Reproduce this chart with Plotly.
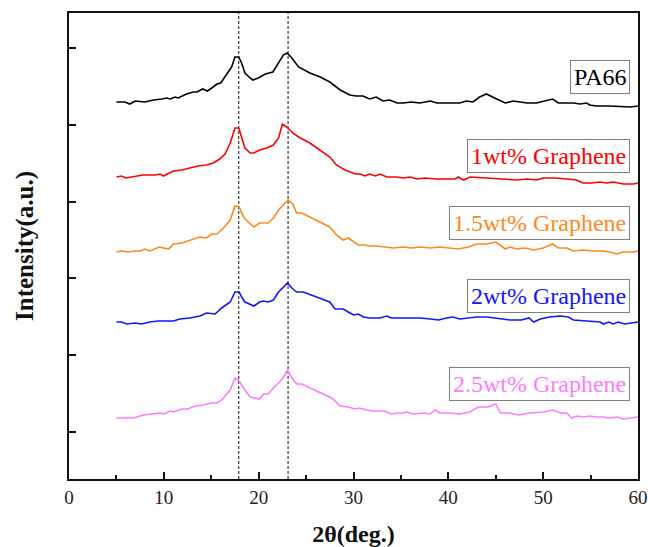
import plotly.graph_objects as go

# XRD patterns: (2θ in degrees, intensity in a.u., stacked with offsets)
pa66 = [(5.0, 377), (5.9, 377), (6.4, 375), (7.0, 378), (8.0, 377), (8.9, 379), (9.8, 380), (10.3, 381),
        (10.65, 380), (11.2, 382), (11.5, 381), (12.4, 385), (13.1, 387), (13.5, 387), (14.1, 390), (14.6, 388),
        (15.05, 391), (15.6, 395), (16.0, 396), (16.6, 404), (17.15, 412), (17.5, 422), (17.9, 422), (18.2, 416),
        (18.55, 406), (19.1, 401), (19.4, 399), (19.95, 401), (20.7, 405), (21.5, 407), (22.1, 416), (22.6, 424),
        (23.0, 426), (23.5, 421), (24.2, 412), (25.4, 406), (26.5, 402), (27.5, 397), (28.6, 389), (29.6, 384),
        (30.3, 383), (31.0, 383), (31.7, 380), (32.4, 382), (33.1, 378), (33.8, 379), (34.6, 376), (35.25, 376),
        (36.1, 377), (37.0, 376), (38.1, 378), (38.8, 376), (40.2, 376), (41.2, 376), (41.9, 378), (42.6, 377),
        (43.3, 382), (44.0, 385), (45.1, 380), (46.0, 376), (46.85, 378), (48.3, 376), (49.3, 376), (50.2, 378),
        (51.0, 380), (51.6, 376), (52.5, 376), (53.2, 376), (53.9, 375), (54.6, 376), (54.9, 374), (55.6, 373),
        (57.0, 373), (58.45, 372), (59.2, 372), (60.0, 373)]

g1 = [(5.0, 302), (5.55, 303), (6.0, 301), (6.8, 302), (7.8, 304), (9.1, 304), (9.6, 305), (9.95, 303),
      (11.0, 308), (11.9, 309), (12.9, 311), (13.6, 313), (14.5, 314), (15.2, 316), (15.9, 320), (16.45, 325),
      (17.0, 336), (17.5, 351), (17.9, 351), (18.2, 342), (18.55, 331), (19.1, 326), (19.5, 326), (20.1, 329),
      (20.85, 331), (21.55, 334), (22.1, 341), (22.5, 355), (22.95, 352), (23.6, 346), (24.2, 342), (25.4, 336),
      (26.5, 329), (27.5, 322), (28.2, 314), (29.1, 309), (30.2, 305), (30.7, 305), (31.2, 303), (31.7, 305),
      (32.3, 303), (32.8, 305), (33.5, 302), (34.6, 302), (35.25, 301), (36.0, 302), (36.7, 300), (37.5, 301),
      (38.8, 300), (40.2, 300), (40.7, 300), (41.05, 302), (41.6, 299), (42.3, 302), (44.05, 301), (45.8, 300),
      (47.2, 299), (48.3, 300), (49.3, 299), (50.0, 301), (51.25, 301), (52.5, 300), (53.5, 299), (54.2, 296),
      (55.1, 296), (56.0, 297), (56.7, 296), (57.4, 297), (58.45, 295), (59.5, 295), (60.0, 296)]

g15 = [(5.0, 227), (5.55, 228), (6.25, 227), (6.95, 228), (7.5, 228), (8.0, 230), (8.55, 228), (9.5, 232),
       (10.5, 230), (11.0, 235), (11.9, 236), (12.75, 239), (13.8, 242), (14.5, 241), (15.05, 245), (15.6, 245),
       (16.3, 251), (17.0, 259), (17.5, 273), (17.95, 272), (18.2, 266), (18.55, 260), (19.5, 252), (20.1, 256),
       (21.0, 256), (21.55, 261), (22.1, 269), (22.6, 274), (23.1, 279), (23.6, 275), (24.0, 266), (24.55, 266),
       (25.4, 262), (26.5, 257), (27.5, 252), (28.2, 244), (28.9, 239), (29.45, 241), (30.5, 234), (31.2, 234),
       (31.7, 233), (32.45, 233), (33.15, 232), (34.2, 231), (35.25, 232), (36.1, 231), (37.0, 232), (38.1, 231),
       (39.1, 232), (40.2, 231), (41.05, 230), (42.1, 232), (43.0, 235), (44.05, 235), (45.0, 237), (45.45, 234),
       (46.0, 230), (46.5, 232), (47.2, 230), (48.1, 231), (49.0, 229), (50.0, 231), (51.0, 235), (51.6, 231),
       (52.5, 231), (53.2, 228), (54.2, 229), (55.3, 228), (56.3, 228), (57.05, 227), (57.75, 225), (58.45, 227),
       (59.5, 227), (60.0, 228)]

g2 = [(5.0, 157), (5.55, 157), (6.1, 155), (6.95, 156), (7.65, 155), (8.55, 157), (9.4, 158), (10.65, 158),
      (11.0, 158), (11.7, 160), (12.75, 161), (13.8, 163), (14.5, 166), (15.4, 165), (16.1, 171), (17.0, 177),
      (17.5, 187), (17.95, 187), (18.2, 182), (18.55, 177), (19.5, 173), (20.1, 177), (20.5, 178), (21.0, 177),
      (21.55, 179), (22.1, 187), (22.6, 192), (23.05, 196), (23.5, 191), (24.0, 187), (24.7, 187), (26.1, 182),
      (27.5, 177), (28.05, 170), (28.9, 170), (29.45, 167), (30.0, 164), (30.5, 165), (31.05, 162), (31.7, 161),
      (32.8, 161), (33.5, 163), (34.0, 161), (35.25, 161), (36.3, 161), (37.0, 161), (38.1, 160), (38.95, 159),
      (39.8, 161), (40.5, 162), (41.2, 160), (42.3, 161), (43.0, 162), (44.05, 162), (45.1, 161), (46.5, 159),
      (47.7, 159), (48.5, 161), (49.0, 157), (49.7, 160), (50.7, 162), (51.8, 163), (52.65, 162), (53.2, 159),
      (54.6, 158), (56.0, 157), (56.35, 155), (56.9, 157), (57.4, 155), (57.9, 157), (58.6, 155), (59.5, 156),
      (60.0, 157)]

g25 = [(5.0, 61), (5.7, 61), (6.8, 61), (7.85, 64), (8.7, 65), (9.6, 66), (10.0, 65), (10.65, 68), (11.0, 67),
       (11.9, 70), (12.5, 70), (13.3, 73), (14.15, 74), (15.05, 76), (15.6, 76), (16.1, 79), (17.0, 89),
       (17.5, 101), (17.95, 98), (18.4, 91), (19.1, 82), (20.1, 80), (20.5, 85), (21.0, 85), (21.55, 91),
       (22.5, 100), (23.05, 109), (23.5, 101), (24.0, 95), (24.55, 95), (26.1, 88), (27.7, 81), (28.6, 73),
       (29.45, 72), (30.15, 70), (30.6, 71), (31.4, 69), (32.1, 68), (33.3, 68), (34.0, 65), (34.7, 66),
       (35.25, 66), (35.6, 67), (36.3, 65), (37.4, 66), (38.1, 65), (38.6, 69), (39.1, 66), (40.2, 66),
       (41.2, 65), (42.3, 67), (43.15, 72), (44.2, 72), (45.0, 75), (45.5, 66), (46.5, 66), (47.4, 64),
       (48.6, 66), (50.0, 67), (51.0, 69), (51.8, 66), (52.5, 66), (53.0, 61), (53.5, 63), (54.2, 62),
       (54.9, 63), (55.6, 62), (56.35, 62), (57.0, 61), (57.75, 62), (58.45, 60), (59.5, 61), (60.0, 62)]

names = ["PA66", "1wt% Graphene", "1.5wt% Graphene", "2wt% Graphene", "2.5wt% Graphene"]
series = [pa66, g1, g15, g2, g25]
colors = ["#000000", "#ff0000", "#ff8a1c", "#1414ff", "#ff7cff"]
label_y = [402, 323, 256, 183, 95]   # vertical centre of each sample label
peak_lines = [17.9, 23.1]             # characteristic reflections

SERIF = "Liberation Serif, Times New Roman, serif"

fig = go.Figure()
for name, pts, col in zip(names, series, colors):
    fig.add_trace(go.Scatter(
        x=[p[0] for p in pts], y=[p[1] for p in pts], mode="lines", name=name,
        line=dict(color=col, width=1.6), showlegend=False))

for xv in peak_lines:
    fig.add_shape(type="line", xref="x", yref="paper", x0=xv, x1=xv, y0=0, y1=1,
                  line=dict(color="#111111", width=1, dash="3px,2px"), layer="below")

for name, yv, col in zip(names, label_y, colors):
    fig.add_annotation(x=59.2, y=yv, xref="x", yref="y", xanchor="right", yanchor="middle",
                       text=name, showarrow=False, font=dict(family=SERIF, size=24, color=col),
                       bordercolor="#808080", borderwidth=1, borderpad=3, bgcolor="white")

axis_common = dict(showline=True, linecolor="#111111", linewidth=2, mirror=True, automargin=False,
                   ticks="inside", tickcolor="#111111", tickwidth=1.5, showgrid=False, zeroline=False)

fig.update_xaxes(range=[0, 60], tick0=0, dtick=10, ticklen=7,
                 minor=dict(ticks="inside", dtick=5, ticklen=4, tickcolor="#111111", tickwidth=1.5),
                 tickfont=dict(family=SERIF, size=19, color="#222222"),
                 title=dict(text="<b>2θ(deg.)</b>", font=dict(family=SERIF, size=24, color="#111111"),
                            standoff=20),
                 **axis_common)
fig.update_yaxes(range=[0, 466], tickmode="linear", tick0=47, dtick=76.8, ticklen=7,
                 showticklabels=False,
                 title=dict(text="<b>Intensity(a.u.)</b>", font=dict(family=SERIF, size=25, color="#111111"),
                            standoff=26),
                 **axis_common)

fig.update_layout(width=648, height=547, margin=dict(l=69, r=10, t=13, b=68),
                  plot_bgcolor="white", paper_bgcolor="white")

fig.write_html("out.html")
